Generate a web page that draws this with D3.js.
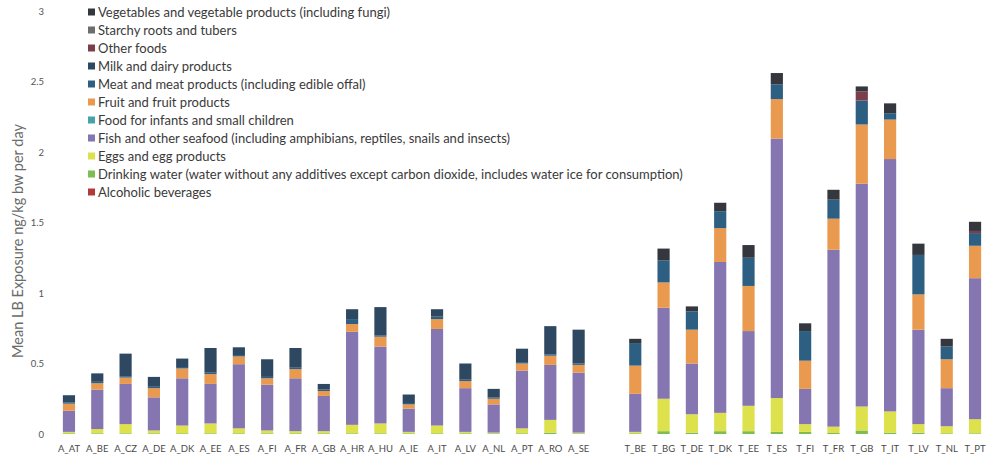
<!DOCTYPE html>
<html>
<head>
<meta charset="utf-8">
<script src="https://cdn.jsdelivr.net/npm/d3@7"></script>
<style>
  html, body { margin: 0; padding: 0; background: #fff; }
  svg { display: block; }
  text { font-family: Lato, "Open Sans", sans-serif; }
</style>
</head>
<body>
<svg id="chart" width="996" height="465"></svg>
<script>
// Countries, grouped as adults (A_) and toddlers (T_)
const adultCountries = ["A_AT","A_BE","A_CZ","A_DE","A_DK","A_EE","A_ES","A_FI","A_FR","A_GB",
                        "A_HR","A_HU","A_IE","A_IT","A_LV","A_NL","A_PT","A_RO","A_SE"];
const toddlerCountries = ["T_BE","T_BG","T_DE","T_DK","T_EE","T_ES","T_FI","T_FR","T_GB",
                          "T_IT","T_LV","T_NL","T_PT"];
const countries = adultCountries.concat(toddlerCountries);

// Food groups, bottom of the stack first
const foodGroups = [
  "Alcoholic beverages",
  "Drinking water (water without any additives except carbon dioxide, includes water ice for consumption)",
  "Eggs and egg products",
  "Fish and other seafood (including amphibians, reptiles, snails and insects)",
  "Food for infants and small children",
  "Fruit and fruit products",
  "Meat and meat products (including edible offal)",
  "Milk and dairy products",
  "Other foods",
  "Starchy roots and tubers",
  "Vegetables and vegetable products (including fungi)"
];

// Mean LB exposure (ng/kg bw per day) per food group, in the order of `countries`
const alcoholic   = [0,0,0,0,0,0,0,0,0,0,0,0,0,0,0,0,0,0,0,
                     0,0,0,0,0,0,0,0,0,0,0,0,0];
const water       = [0.005,0.005,0.005,0.005,0.005,0.005,0.005,0.005,0.005,0.005,0.005,0.005,0.005,0.005,0.005,0.005,0.005,0.01,0.005,
                     0.005,0.02,0.01,0.02,0.02,0.015,0.015,0.007,0.025,0.01,0.01,0.005,0.005];
const eggs        = [0.01,0.03,0.065,0.02,0.055,0.07,0.035,0.02,0.015,0.015,0.06,0.07,0.01,0.055,0.01,0.005,0.035,0.09,0.005,
                     0.01,0.23,0.13,0.13,0.18,0.24,0.055,0.045,0.17,0.15,0.06,0.05,0.1];
const fish        = [0.15,0.28,0.285,0.235,0.335,0.28,0.455,0.325,0.375,0.25,0.66,0.545,0.165,0.685,0.31,0.2,0.41,0.39,0.425,
                     0.27,0.645,0.36,1.07,0.53,1.84,0.25,1.255,1.58,1.79,0.67,0.27,1.0];
const infantFood  = [0,0,0,0,0,0,0,0,0,0,0,0,0,0,0,0,0,0,0,
                     0,0,0,0,0,0,0,0,0,0,0,0,0];
const fruit       = [0.05,0.045,0.045,0.065,0.07,0.07,0.055,0.045,0.065,0.035,0.055,0.07,0.03,0.07,0.05,0.04,0.05,0.065,0.055,
                     0.2,0.18,0.24,0.24,0.32,0.28,0.2,0.22,0.42,0.28,0.25,0.205,0.23];
const meat        = [0.01,0.01,0.01,0.01,0.01,0.01,0.01,0.01,0.01,0.01,0.035,0.01,0.01,0.02,0.01,0.01,0.01,0.01,0.01,
                     0.16,0.155,0.13,0.12,0.2,0.105,0.21,0.135,0.17,0.045,0.28,0.09,0.09];
const milk        = [0.05,0.06,0.16,0.07,0.06,0.175,0.055,0.125,0.14,0.04,0.07,0.2,0.06,0.05,0.115,0.06,0.095,0.2,0.24,
                     0,0,0,0,0,0,0,0,0,0,0,0,0];
const otherFoods  = [0,0,0,0,0,0,0,0,0,0,0,0,0,0,0,0,0,0,0,
                     0,0,0,0,0,0,0,0,0.065,0,0,0,0.015];
const starchy     = [0,0,0,0,0,0,0,0,0,0,0,0,0,0,0,0,0,0,0,
                     0,0,0,0,0,0,0,0,0,0,0,0,0];
const vegetables  = [0,0,0,0,0,0,0,0,0,0,0,0,0,0,0,0,0,0,0,
                     0.03,0.085,0.035,0.06,0.09,0.08,0.055,0.07,0.035,0.07,0.08,0.055,0.065];

const seriesValues = [alcoholic, water, eggs, fish, infantFood, fruit, meat, milk, otherFoods, starchy, vegetables];
const seriesColors = ["#b33a3a","#7dbd52","#dde24c","#8575b0","#46a3aa","#ea9a4f","#2d5f83","#2f4861","#7b3f4c","#6d6d6d","#34373d"];

const yTicks = [0, 0.5, 1, 1.5, 2, 2.5, 3];
const yTitle = "Mean LB Exposure ng/kg bw per day";

// ---- layout ----
const svg = d3.select("#chart");
const spacer = "__gap__";
const xDomain = adultCountries.concat([spacer], toddlerCountries);

const x = d3.scaleBand()
  .domain(xDomain)
  .range([54.8, 989.2])
  .paddingInner(0.57)
  .paddingOuter(0.285);

const y = d3.scaleLinear().domain([0, 3]).range([434, 11]);

// rows for the stack generator
const rows = countries.map((c, i) => {
  const r = { country: c };
  foodGroups.forEach((g, k) => { r[g] = seriesValues[k][i]; });
  return r;
});

const stacked = d3.stack().keys(foodGroups)(rows);

// bars
svg.append("g")
  .selectAll("g")
  .data(stacked)
  .join("g")
    .attr("fill", (d, i) => seriesColors[i])
  .selectAll("rect")
  .data(d => d)
  .join("rect")
    .attr("x", d => x(d.data.country))
    .attr("width", x.bandwidth())
    .attr("y", d => y(d[1]))
    .attr("height", d => Math.max(0, y(d[0]) - y(d[1])));

// y axis
const yAxis = svg.append("g")
  .attr("transform", "translate(48,0)")
  .call(d3.axisLeft(y).tickValues(yTicks).tickSize(0).tickPadding(4).tickFormat(d3.format("")));
yAxis.select(".domain").remove();
yAxis.selectAll("text")
  .attr("font-family", "Lato, 'Open Sans', sans-serif")
  .attr("font-size", 9.5)
  .attr("fill", "#555");

// x axis
const xAxis = svg.append("g")
  .attr("transform", "translate(0,434)")
  .call(d3.axisBottom(x).tickValues(countries).tickSize(0).tickPadding(11));
xAxis.select(".domain").remove();
xAxis.selectAll("text")
  .attr("font-family", "Lato, 'Open Sans', sans-serif")
  .attr("font-size", 9.5)
  .attr("fill", "#4a4a4a");

// y axis title
svg.append("text")
  .attr("transform", "translate(23,241) rotate(-90)")
  .attr("text-anchor", "middle")
  .attr("font-size", 14.5)
  .attr("fill", "#6b6b6b")
  .text(yTitle);

// legend: top series first
const legendOrder = foodGroups.map((g, i) => ({ name: g, color: seriesColors[i] })).reverse();
const legend = svg.append("g").attr("transform", "translate(88,12)");
const item = legend.selectAll("g")
  .data(legendOrder)
  .join("g")
    .attr("transform", (d, i) => `translate(0,${i * 18})`);
item.append("rect")
  .attr("x", 0).attr("y", -3.5)
  .attr("width", 7).attr("height", 7)
  .attr("fill", d => d.color);
item.append("text")
  .attr("x", 10)
  .attr("dy", "0.35em")
  .attr("font-size", 13)
  .attr("fill", "#3a3a3a")
  .text(d => d.name);
</script>
</body>
</html>
